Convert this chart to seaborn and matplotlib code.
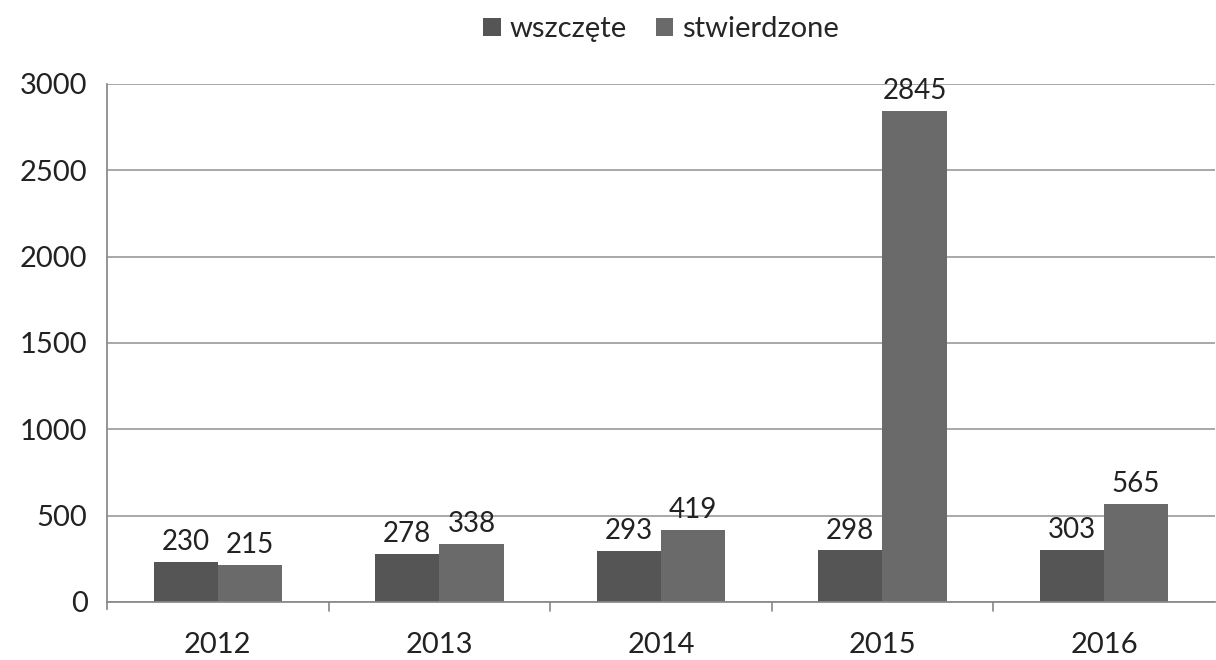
import numpy as np
import pandas as pd
import matplotlib
matplotlib.use("Agg")
import matplotlib.pyplot as plt
import seaborn as sns

# Dane
lata = ["2012", "2013", "2014", "2015", "2016"]
wszczete = [230, 278, 293, 298, 303]
stwierdzone = [215, 338, 419, 2845, 565]
serie = ["wszczęte", "stwierdzone"]
kolory = ["#555555", "#6a6a6a"]

df = pd.DataFrame({
    "rok": lata * 2,
    "wartosc": wszczete + stwierdzone,
    "seria": [serie[0]] * len(lata) + [serie[1]] * len(lata),
})

sns.set_theme(style="white")
plt.rcParams["font.family"] = ["Lato", "DejaVu Sans"]

fig, ax = plt.subplots(figsize=(12.16, 6.6), dpi=100)
fig.subplots_adjust(left=0.088, right=0.999, top=0.873, bottom=0.088)

sns.barplot(data=df, x="rok", y="wartosc", hue="seria", palette=kolory,
            width=0.58, saturation=1, ax=ax, edgecolor="none")

for cont in ax.containers:
    ax.bar_label(cont, fontsize=20, padding=5, color="#222222")

ax.set_ylim(0, 3000)
ax.set_yticks(range(0, 3001, 500))
ax.yaxis.grid(True, color="#999999", linewidth=1.2)
ax.set_axisbelow(True)
ax.set_xlabel("")
ax.set_ylabel("")
ax.tick_params(axis="both", labelsize=21, colors="#222222", length=0)
ax.tick_params(axis="x", pad=22)
ax.tick_params(axis="y", pad=14)
ax.set_xlim(-0.5, 4.5)

for s in ["top", "right"]:
    ax.spines[s].set_visible(False)
ax.spines["left"].set_color("#888888")
ax.spines["bottom"].set_color("#888888")
ax.spines["left"].set_bounds(-40, 3000)

# znaczniki między kategoriami
for xpos in np.arange(0.5, 4.0, 1.0):
    ax.plot([xpos, xpos], [0, -50], color="#888888", lw=1.2, clip_on=False)

ax.legend(loc="center", bbox_to_anchor=(0.5, 1.105), ncol=2, frameon=False,
          fontsize=21, handlelength=0.6, handleheight=0.6, columnspacing=1.0,
          handletextpad=0.3)

fig.savefig("out.png", dpi=100)
